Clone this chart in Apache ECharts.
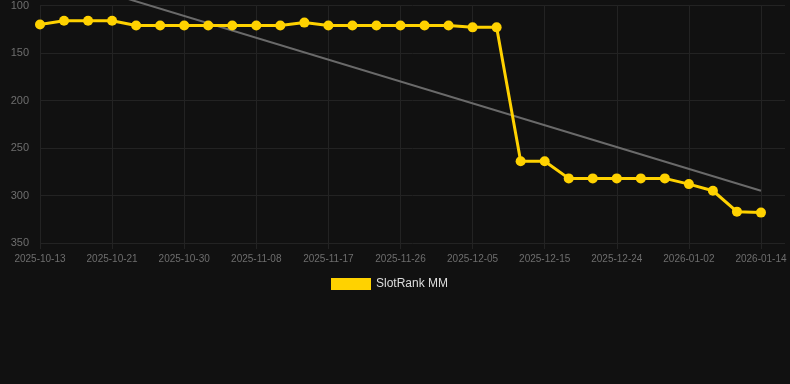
<!DOCTYPE html>
<html>
<head>
<meta charset="utf-8">
<script src="https://cdn.jsdelivr.net/npm/echarts@6/dist/echarts.min.js"></script>
<style>
html,body{margin:0;padding:0;background:#111111;}
#c{width:790px;height:384px;}
</style>
</head>
<body>
<div id="c"></div>
<script>
var categories = ['2025-10-13','2025-10-16','2025-10-18','2025-10-21','2025-10-24','2025-10-27','2025-10-30','2025-11-02','2025-11-05','2025-11-08','2025-11-11','2025-11-14','2025-11-17','2025-11-20','2025-11-23','2025-11-26','2025-11-29','2025-12-02','2025-12-05','2025-12-08','2025-12-11','2025-12-15','2025-12-18','2025-12-21','2025-12-24','2025-12-27','2025-12-30','2026-01-02','2026-01-06','2026-01-10','2026-01-14'];
var rankValues = [120,116,116,116,121,121,121,121,121,121,121,118,121,121,121,121,121,121,123,123,264,264,282,282,282,282,282,288,295,317,318];
var trendValues = [65,null,null,null,null,null,null,null,null,null,null,null,null,null,null,null,null,null,null,null,null,null,null,null,null,null,null,null,null,null,295];
var yTicks = [100,150,200,250,300,350];
var seriesName = 'SlotRank MM';

var chart = echarts.init(document.getElementById('c'), null, {renderer:'canvas'});
chart.setOption({
  backgroundColor: '#111111',
  animation: false,
  grid: {left: 40, right: 5, top: 5, bottom: 141, containLabel: false},
  legend: {
    data: [seriesName],
    left: 326, top: 273,
    icon: 'rect', itemWidth: 40, itemHeight: 12, itemGap: 10,
    textStyle: {color: '#dddddd', fontSize: 12, fontFamily: 'Liberation Sans, Arial, sans-serif'}
  },
  xAxis: {
    type: 'category',
    data: categories,
    boundaryGap: false,
    max: categories.length,
    axisLine: {show: false},
    axisTick: {show: true, length: 6, interval: 2, lineStyle: {color: '#232323'}},
    axisLabel: {interval: 2, color: '#6e6e6e', fontSize: 10, margin: 11, fontFamily: 'Liberation Sans, Arial, sans-serif',
      formatter: function(v){ return v || ''; }},
    splitLine: {show: true, interval: 2, lineStyle: {color: '#232323', width: 1}}
  },
  yAxis: {
    type: 'value',
    inverse: true,
    min: yTicks[0], max: yTicks[yTicks.length-1], interval: 50,
    axisLine: {show: false},
    axisTick: {show: false},
    axisLabel: {color: '#6e6e6e', fontSize: 11, margin: 11, fontFamily: 'Liberation Sans, Arial, sans-serif'},
    splitLine: {show: true, lineStyle: {color: '#232323', width: 1}}
  },
  series: [
    {
      name: 'trend',
      type: 'line',
      data: trendValues,
      connectNulls: true,
      clip: false,
      symbol: 'none',
      lineStyle: {color: '#6a6a6a', width: 2},
      z: 1
    },
    {
      name: seriesName,
      type: 'line',
      data: rankValues,
      clip: false,
      symbol: 'circle',
      symbolSize: 10,
      itemStyle: {color: '#FFD200'},
      lineStyle: {color: '#FFD200', width: 3},
      z: 3
    }
  ]
});
</script>
</body>
</html>
